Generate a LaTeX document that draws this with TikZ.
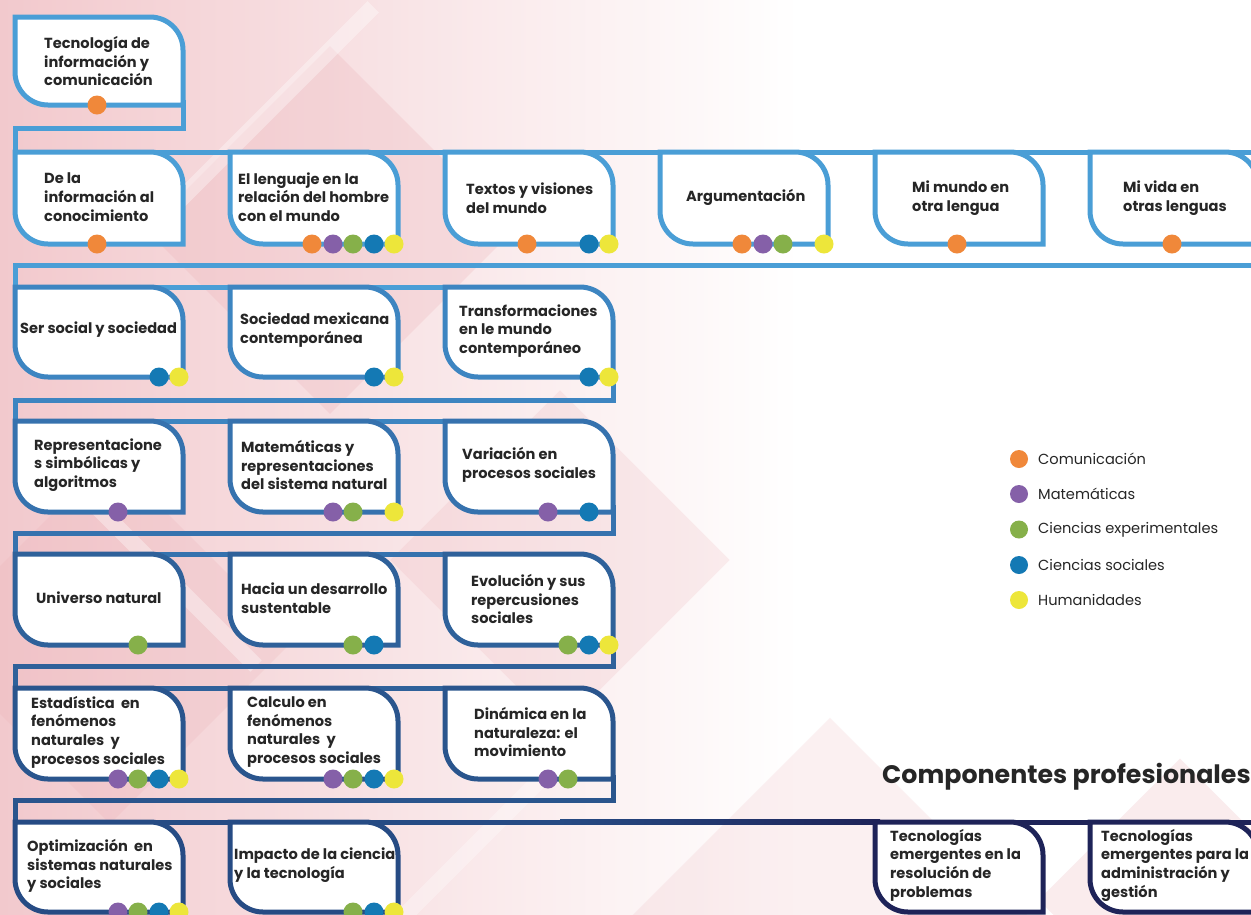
\documentclass[tikz,border=0pt]{standalone}
\usepackage{fontspec}
\setmainfont{Poppins}
\definecolor{rA}{HTML}{4A9ED6}
\definecolor{rB}{HTML}{3D85C1}
\definecolor{rC}{HTML}{3672AE}
\definecolor{rD}{HTML}{2F619A}
\definecolor{rE}{HTML}{2A558D}
\definecolor{rF}{HTML}{264B84}
\definecolor{navy}{HTML}{1E2358}
\definecolor{cC}{HTML}{F0883A}
\definecolor{cM}{HTML}{8560A8}
\definecolor{cE}{HTML}{86B04A}
\definecolor{cS}{HTML}{1479B4}
\definecolor{cH}{HTML}{EDE63A}
\definecolor{txt}{HTML}{262626}
\definecolor{pinkA}{HTML}{F2C9CD}
\definecolor{pinkB}{HTML}{EBAFB5}
\tikzset{
  conn/.style={line width=5pt, draw=#1},
  lbl/.style={anchor=west, align=left, inner xsep=0pt, text=txt, font=\bfseries\fontsize{14.6}{18.7}\selectfont},
  leg/.style={anchor=west, inner xsep=0pt, text=txt, font=\fontsize{14.6}{17}\selectfont},
  dotC/.style={fill=cC, xshift=-86pt},
  dotM/.style={fill=cM, xshift=-65pt},
  dotE/.style={fill=cE, xshift=-45pt},
  dotS/.style={fill=cS, xshift=-24pt},
  dotH/.style={fill=cH, xshift=-4pt},
}
\newcommand{\tabbox}[4]{%
  \filldraw[line width=5pt, draw=#4, fill=white] (#1,-#2) -- ({#1+135},-#2) arc[start angle=90,end angle=0,radius=33] -- ({#1+168},-#3) -- ({#1+33},-#3) arc[start angle=270,end angle=180,radius=33] -- cycle;}
\newcommand{\boxdots}[3]{%
  \foreach \k in {#3} {\fill[dot\k] (#1,-#2) circle[radius=9.5];}}
\begin{document}
\begin{tikzpicture}[x=1pt,y=1pt]
\useasboundingbox (0,-914) rectangle (1251,0);
\begin{scope}
\clip (0,-914) rectangle (1251,0);
% background
\fill[white] (0,-914) rectangle (1251,0);
\shade[left color=pinkA, right color=white] (0,-914) rectangle (800,0);
\fill[pinkB, opacity=0.25, rotate around={45:(330,-230)}] (200,-360) rectangle (460,-100);
\fill[pinkB, opacity=0.22, rotate around={45:(110,-640)}] (-20,-770) rectangle (240,-510);
\fill[pinkB, opacity=0.2, rotate around={45:(560,-560)}] (440,-680) rectangle (680,-440);
\fill[pinkB, opacity=0.18, rotate around={45:(830,-930)}] (680,-1080) rectangle (980,-780);
\fill[pinkA, opacity=0.35, rotate around={45:(1180,-900)}] (1080,-1000) rectangle (1280,-800);
\fill[white, opacity=0.35, rotate around={45:(260,-120)}] (100,-128) rectangle (420,-112);
\fill[white, opacity=0.35, rotate around={-45:(150,-560)}] (0,-568) rectangle (300,-552);
\fill[white, opacity=0.3, rotate around={45:(500,-820)}] (360,-828) rectangle (640,-812);
\end{scope}
% connectors
\draw[conn=rA] (183,-100) -- (183,-128) -- (15,-128) -- (15,-152) -- (1260,-152);
\draw[conn=rA] (1258,-240) -- (1258,-265) -- (15,-265) -- (15,-287) -- (580,-287);
\draw[conn=rB] (613,-370) -- (613,-400) -- (15,-400) -- (15,-421) -- (580,-421);
\draw[conn=rC] (613,-505) -- (613,-533) -- (15,-533) -- (15,-554) -- (580,-554);
\draw[conn=rD] (613,-640) -- (613,-666) -- (15,-666) -- (15,-688) -- (580,-688);
\draw[conn=rE] (613,-775) -- (613,-800) -- (15,-800) -- (15,-824.5);
\fill[rF] (12.5,-824.5) rectangle (560,-819.5);
\shade[left color=rF, right color=navy] (560,-824.5) rectangle (880,-819.5);
\fill[navy] (880,-824.5) rectangle (1251,-819.5);
% row 1
\tabbox{15}{17}{105}{rA}
\node[lbl] (t1) at (44,-61) {Tecnología de\\información y\\comunicación};
\boxdots{183}{105}{C}
% row 2
\tabbox{15}{152}{244}{rA}
\tabbox{230}{152}{244}{rA}
\tabbox{445}{152}{244}{rA}
\tabbox{660}{152}{244}{rA}
\tabbox{875}{152}{244}{rA}
\tabbox{1090}{152}{244}{rA}
\node[lbl] (t21) at (44,-197) {De la\\información al\\conocimiento};
\node[lbl] (t22) at (238,-197) {El lenguaje en la\\relación del hombre\\con el mundo};
\node[lbl] (t23) at (466,-198) {Textos y visiones\\del mundo};
\node[lbl] (t24) at (686,-197) {Argumentación};
\node[lbl] (t25) at (912,-198) {Mi mundo en\\otra lengua};
\node[lbl] (t26) at (1123,-198) {Mi vida en\\otras lenguas};
\boxdots{183}{244}{C}
\boxdots{398}{244}{C,M,E,S,H}
\boxdots{613}{244}{C,S,H}
\boxdots{828}{244}{C,M,E,H}
\boxdots{1043}{244}{C}
\boxdots{1258}{244}{C}
% row 3
\tabbox{15}{287}{377}{rB}
\tabbox{230}{287}{377}{rB}
\tabbox{445}{287}{377}{rB}
\node[lbl] (t31) at (20,-330) {Ser social y sociedad};
\node[lbl] (t32) at (240,-330) {Sociedad mexicana\\contemporánea};
\node[lbl] (t33) at (459,-331) {Transformaciones\\en le mundo\\contemporáneo};
\boxdots{183}{377}{S,H}
\boxdots{398}{377}{S,H}
\boxdots{613}{377}{S,H}
% row 4
\tabbox{15}{421}{512}{rC}
\tabbox{230}{421}{512}{rC}
\tabbox{445}{421}{512}{rC}
\node[lbl] (t41) at (34,-465) {Representacione\\s simbólicas y\\algoritmos};
\node[lbl] (t42) at (241,-465) {Matemáticas y\\representaciones\\del sistema natural};
\node[lbl] (t43) at (462,-465) {Variación en\\procesos sociales};
\boxdots{183}{512}{M}
\boxdots{398}{512}{M,E,H}
\boxdots{613}{512}{M,S}
% row 5
\tabbox{15}{554}{645}{rD}
\tabbox{230}{554}{645}{rD}
\tabbox{445}{554}{645}{rD}
\node[lbl] (t51) at (36,-598) {Universo natural};
\node[lbl] (t52) at (241,-598) {Hacia un desarrollo\\sustentable};
\node[lbl] (t53) at (471,-599) {Evolución y sus\\repercusiones\\sociales};
\boxdots{183}{645}{E}
\boxdots{398}{645}{E,S}
\boxdots{613}{645}{E,S,H}
% row 6
\tabbox{15}{688}{779}{rE}
\tabbox{230}{688}{779}{rE}
\tabbox{445}{688}{779}{rE}
\node[lbl] (t61) at (31,-732) {Estadística\ \ en\\fenómenos\\naturales\ \ y\\procesos sociales};
\node[lbl] (t62) at (247,-732) {Calculo en\\fenómenos\\naturales\ \ y\\procesos sociales};
\node[lbl] (t63) at (474,-732) {Dinámica en la\\naturaleza: el\\movimiento};
\boxdots{183}{779}{M,E,S,H}
\boxdots{398}{779}{M,E,S,H}
\boxdots{613}{779}{M,E}
% row 7
\tabbox{15}{822}{912}{rF}
\tabbox{230}{822}{912}{rF}
\tabbox{875}{822}{912}{navy}
\tabbox{1090}{822}{912}{navy}
\node[lbl] (t71) at (27,-866) {Optimización\ \ en\\sistemas naturales\\y sociales};
\node[lbl] (t72) at (234,-865) {Impacto de la ciencia\\y la tecnología};
\node[lbl] (t73) at (890,-865) {Tecnologías\\emergentes en la\\resolución de\\problemas};
\node[lbl] (t74) at (1101,-865) {Tecnologías\\emergentes para la\\administración y\\gestión};
\boxdots{183}{912}{M,E,S,H}
\boxdots{398}{912}{E,S,H}
% title
\node[anchor=base west, inner xsep=0pt, text=txt, font=\bfseries\fontsize{25.3}{30}\selectfont] (title) at (882,-783) {Componentes profesionales};
% legend
\fill[cC] (1019,-459) circle[radius=9];
\fill[cM] (1019,-494) circle[radius=9];
\fill[cE] (1019,-529.5) circle[radius=9];
\fill[cS] (1019,-565) circle[radius=9];
\fill[cH] (1019,-600) circle[radius=9];
\node[leg] (l1) at (1038,-459) {Comunicación};
\node[leg] (l2) at (1038,-494) {Matemáticas};
\node[leg] (l3) at (1038,-529.5) {Ciencias experimentales};
\node[leg] (l4) at (1038,-565) {Ciencias sociales};
\node[leg] (l5) at (1038,-600) {Humanidades};
\end{tikzpicture}
\end{document}
